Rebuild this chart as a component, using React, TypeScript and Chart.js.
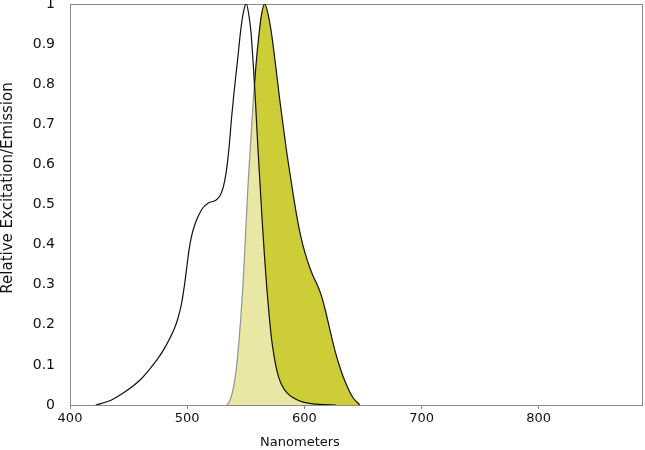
import { useEffect, useRef } from "react"
import { Chart, type ChartConfiguration, type Plugin, registerables } from "chart.js"

Chart.register(...registerables)

// Excitation spectrum (nm / relative value)
const excitationNm = [
  422, 435, 445, 460, 474, 480, 485, 489, 492, 495, 497.5, 499.5, 501.5, 503.5, 506, 509, 513, 518, 524,
  528, 530.5, 533, 535.5, 538, 540, 543, 545.5, 548, 550.5, 553, 554.5, 556.5, 558.2, 560, 562, 564, 566,
  568, 570, 572, 574, 576, 578, 581, 585, 590.5, 599, 610, 627,
]
const excitationValues = [
  0, 0.012, 0.029, 0.063, 0.112, 0.138, 0.165, 0.19, 0.215, 0.25, 0.295, 0.34, 0.385, 0.418, 0.445, 0.468,
  0.49, 0.504, 0.51, 0.522, 0.54, 0.575, 0.635, 0.72, 0.78, 0.86, 0.93, 0.98, 1, 0.965, 0.928, 0.844,
  0.761, 0.66, 0.56, 0.46, 0.37, 0.29, 0.222, 0.165, 0.125, 0.093, 0.07, 0.048, 0.031, 0.018, 0.007, 0.002,
  0,
]

// Emission spectrum (nm / relative value)
const emissionNm = [
  533.8, 536, 538.5, 540.5, 542.5, 544.2, 545.7, 547.4, 548.9, 550.3, 551.7, 553, 554.5, 556.2, 558.5,
  561.4, 563.5, 566.2, 569, 571.9, 575.6, 579, 584.7, 589, 593.3, 597, 600.5, 604.6, 608, 611, 614.6, 618,
  622, 626, 631, 636, 641.6, 647.3,
]
const emissionValues = [
  0, 0.008, 0.03, 0.06, 0.105, 0.16, 0.215, 0.29, 0.37, 0.453, 0.537, 0.6, 0.67, 0.75, 0.84, 0.928, 0.975,
  1, 0.975, 0.928, 0.844, 0.761, 0.636, 0.553, 0.475, 0.42, 0.38, 0.343, 0.318, 0.3, 0.272, 0.235, 0.185,
  0.137, 0.088, 0.05, 0.018, 0,
]

const xTicks = [400, 500, 600, 700, 800]
const yTicks = [0, 0.1, 0.2, 0.3, 0.4, 0.5, 0.6, 0.7, 0.8, 0.9, 1]

const xTitle = "Nanometers"
const yTitle = "Relative Excitation/Emission"

const frameAndTitles: Plugin = {
  id: "frameAndTitles",
  beforeDatasetsDraw(chart) {
    const { ctx, chartArea } = chart
    ctx.save()
    ctx.strokeStyle = "#8a8a8a"
    ctx.lineWidth = 1
    ctx.strokeRect(chartArea.left + 0.5, chartArea.top + 0.5, chartArea.right - chartArea.left - 1, chartArea.bottom - chartArea.top)
    ctx.restore()
  },
  afterDraw(chart) {
    const { ctx } = chart
    ctx.save()
    ctx.fillStyle = "#111"
    ctx.textAlign = "center"
    ctx.textBaseline = "middle"
    ctx.font = "13px 'DejaVu Sans'"
    ctx.fillText(xTitle, 300, 443)
    ctx.translate(8, 188)
    ctx.rotate(-Math.PI / 2)
    ctx.font = "15px 'DejaVu Sans'"
    ctx.fillText(yTitle, 0, 0)
    ctx.restore()
  },
}

export default function App() {
  const chartRef = useRef<HTMLCanvasElement>(null)
  const chartInstance = useRef<Chart | null>(null)

  useEffect(() => {
    document.body.style.margin = "0"
    if (!chartRef.current) return
    if (chartInstance.current) chartInstance.current.destroy()
    const ctx = chartRef.current.getContext("2d")
    if (!ctx) return

    const config: ChartConfiguration<"line"> = {
      type: "line",
      data: {
        datasets: [
          {
            label: "Excitation",
            data: excitationNm.map((x, i) => ({ x, y: excitationValues[i] })),
            borderColor: "#111",
            backgroundColor: "rgba(255, 255, 255, 0.55)",
            borderWidth: 1.2,
            fill: "origin",
            cubicInterpolationMode: "monotone",
            pointRadius: 0,
          },
          {
            label: "Emission",
            data: emissionNm.map((x, i) => ({ x, y: emissionValues[i] })),
            borderColor: "#111",
            backgroundColor: "rgb(205, 205, 55)",
            borderWidth: 1.2,
            fill: "origin",
            cubicInterpolationMode: "monotone",
            pointRadius: 0,
          },
        ],
      },
      options: {
        responsive: false,
        animation: false,
        layout: { padding: { top: 4, right: 2, left: 0, bottom: 0 } },
        plugins: {
          legend: { display: false },
          tooltip: { enabled: false },
        },
        scales: {
          x: {
            type: "linear",
            min: 400,
            max: 889,
            afterBuildTicks: (scale) => {
              scale.ticks = xTicks.map((value) => ({ value }))
            },
            afterFit: (scale) => {
              scale.height = 45
              scale.paddingRight = 0
            },
            border: { display: false },
            grid: {
              drawOnChartArea: false,
              drawTicks: true,
              tickLength: 4,
              color: "#8a8a8a",
            },
            ticks: {
              padding: 2,
              color: "#111",
              font: { family: "'DejaVu Sans'", size: 13 },
              maxRotation: 0,
            },
          },
          y: {
            min: 0,
            max: 1,
            afterBuildTicks: (scale) => {
              scale.ticks = yTicks.map((value) => ({ value }))
            },
            afterFit: (scale) => {
              scale.width = 70
              scale.paddingTop = 0
              scale.paddingBottom = 0
            },
            border: { display: false },
            grid: { display: false, drawTicks: false },
            ticks: {
              padding: 15,
              color: "#111",
              font: { family: "'DejaVu Sans'", size: 14 },
              callback: (v) => String(v),
            },
          },
        },
      },
      plugins: [frameAndTitles],
    }

    chartInstance.current = new Chart(ctx, config)

    return () => {
      if (chartInstance.current) {
        chartInstance.current.destroy()
        chartInstance.current = null
      }
    }
  }, [])

  return (
    <div style={{ width: 645, height: 450 }}>
      <canvas ref={chartRef} width={645} height={450} />
    </div>
  )
}
